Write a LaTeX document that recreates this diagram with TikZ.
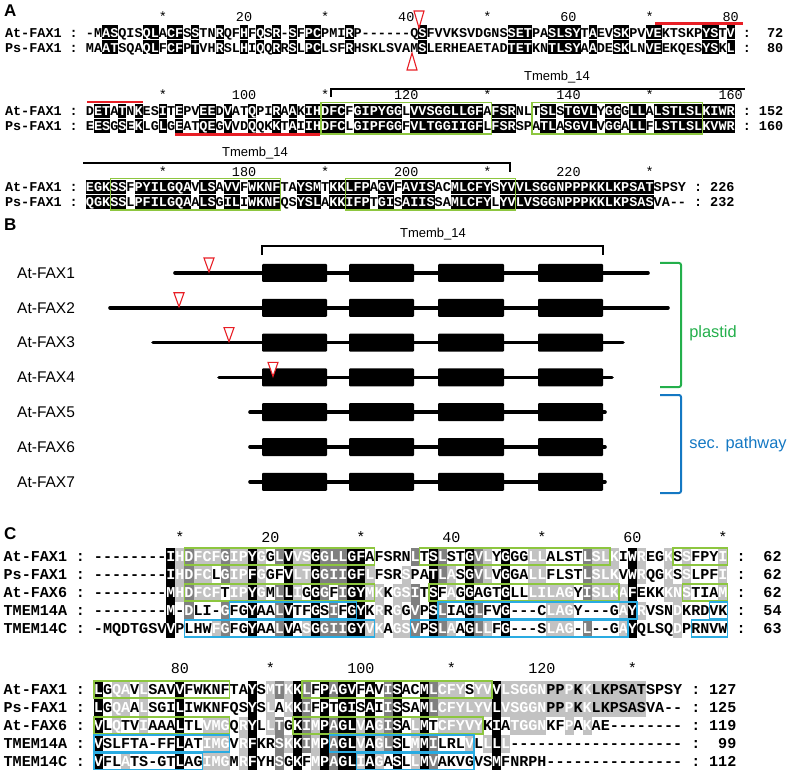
\documentclass[tikz,border=0pt]{standalone}
\usepackage{fontspec}
\setmainfont{Liberation Sans}
\setmonofont{Liberation Mono}
\usepackage{xstring}
\usetikzlibrary{positioning,calc}

\definecolor{boxgreen}{RGB}{141,198,63}
\definecolor{boxblue}{RGB}{41,171,226}
\definecolor{shadedark}{gray}{0.5}
\definecolor{shadelight}{gray}{0.76}
\definecolor{markred}{RGB}{232,30,37}
\definecolor{plastidgreen}{RGB}{35,175,75}
\definecolor{secblue}{RGB}{20,120,195}

% similarity groups (DN EQ ST KR FYW LIVM)
\def\setgroup#1#2{\expandafter\def\csname grp#1\endcsname{#2}}
\expandafter\def\csname grp\endcsname{0}
\setgroup{-}{0}
\setgroup{D}{1}\setgroup{N}{1}
\setgroup{E}{2}\setgroup{Q}{2}
\setgroup{S}{3}\setgroup{T}{3}
\setgroup{K}{4}\setgroup{R}{4}
\setgroup{F}{5}\setgroup{Y}{5}\setgroup{W}{5}
\setgroup{L}{6}\setgroup{I}{6}\setgroup{V}{6}\setgroup{M}{6}
\setgroup{A}{7}\setgroup{G}{8}\setgroup{P}{9}\setgroup{C}{10}\setgroup{H}{11}

\def\setseq#1#2{\expandafter\def\csname seq#1\endcsname{#2}}
\def\nonecol{none}
\newcount\nsame

% one block of the alignment, shaded by conservation
\newcommand\alnblock[2]{% #1 rows, #2 columns
  \foreach \ci in {1,...,#2}{%
    \foreach \ri in {1,...,#1}{%
      \StrChar{\csname seq\ri\endcsname}{\ci}[\tmpch]%
      \expandafter\xdef\csname ch\ri\endcsname{\tmpch}%
    }%
    \foreach \ri in {1,...,#1}{%
      \global\nsame=0
      \edef\grr{\csname grp\csname ch\ri\endcsname\endcsname}%
      \foreach \si in {1,...,#1}{%
        \edef\gss{\csname grp\csname ch\si\endcsname\endcsname}%
        \ifnum\grr>0 \ifnum\grr=\gss\relax\global\advance\nsame by 1 \fi\fi
      }%
      \def\shdcol{none}%
      \ifnum\nsame=#1 \def\shdcol{black}\fi
      \ifnum#1>2
        \ifnum\nsame=\numexpr#1-1\relax\def\shdcol{shadedark}\fi
        \ifnum\nsame=\numexpr#1-2\relax\def\shdcol{shadelight}\fi
      \fi
      \pgfmathsetmacro\cx{\xo+(\ci-1)*\cw}%
      \pgfmathsetmacro\cy{\yo+(\ri-1)*\dy}%
      \def\txtcol{black}%
      \ifx\shdcol\nonecol\else
        \fill[\shdcol] (\cx-\cw/2,\cy-\shh) rectangle (\cx+\cw/2,\cy+\shh);
        \def\txtcol{white}%
      \fi
      \node[anchor=base,inner sep=0pt,text=\txtcol,font=\seqfont] (res\ri-\ci) at (\cx,\cy+\blo) {\csname ch\ri\endcsname};
    }%
  }%
}

% name, colons and residue count of one row
\newcommand\rowtag[4]{% #1 row, #2 name, #3 last column, #4 count
  \node[anchor=base west,inner sep=0pt,font=\seqfont] (name#1) at ({\xo-10.5*\cw},{\yo+(#1-1)*\dy+\blo}) {#2};
  \node[anchor=base,inner sep=0pt,font=\seqfont] (cola#1) at ({\xo-2*\cw},{\yo+(#1-1)*\dy+\blo}) {:};
  \node[anchor=base,inner sep=0pt,font=\seqfont] (colb#1) at ({\xo+(#3+1)*\cw},{\yo+(#1-1)*\dy+\blo}) {:};
  \node[anchor=base east,inner sep=0pt,font=\seqfont] (count#1) at ({\xo+(#3+5.5)*\cw},{\yo+(#1-1)*\dy+\blo}) {#4};
}

\newcommand\colnums[2]{% #1 y, #2 column/label list
  \foreach \k/\lab in {#2}
    \node[anchor=base,inner sep=0pt,font=\numfont] (num\k) at ({\xo+(\k-1)*\cw},#1+\blo) {\lab};
}

\newcommand\seqbox[5]{% colour, first row, last row, first col, last col
  \draw[seqline,#1] ({\xo+(#4-1.5)*\cw},{\yo+(#2-1)*\dy-\shh-\bpad}) rectangle ({\xo+(#5-0.5)*\cw},{\yo+(#3-1)*\dy+\shh+\bpad});
}

\def\panelfont{\fontsize{17}{17}\selectfont\bfseries}
\def\lblfont{\fontsize{13}{13}\selectfont}

\begin{document}
\begin{tikzpicture}[x=1pt,y=-1pt,
  seqline/.style={line width=1.4pt},
  redmark/.style={draw=markred,fill=white,line width=1.1pt},
  redbar/.style={markred,line width=2.6pt},
  tmembline/.style={line width=1.1pt},
  exon/.style={fill=black,rounded corners=1pt},
  protline/.style={line width=3.6pt,line cap=round},
  rowlabel/.style={anchor=west,inner sep=0pt,font=\fontsize{15.5}{15.5}\selectfont},
  brack/.style={line width=2pt,rounded corners=2pt},
  sidelabel/.style={font=\fontsize{16.4}{16.4}\selectfont}
]
\useasboundingbox (0,0) rectangle (788,770);

% ---------------- A ----------------
\node[anchor=base west,inner sep=0pt,font=\panelfont] (panelA) at (4,17) {A};

\def\xo{90}\def\cw{8.11}\def\dy{15}\def\shh{7}\def\blo{4.6}\def\bpad{1.2}
\def\seqfont{\fontsize{13.5}{13.5}\selectfont\ttfamily\bfseries}
\def\numfont{\fontsize{13.5}{13.5}\selectfont\ttfamily}

% block 1
\def\yo{32.5}
\setseq{1}{-MASQISQLACFSSTNRQFHFQSR-SFPCPMIRP------QSFVVKSVDGNSSETPASLSYTAEVSKPVVEKTSKPYSTV}
\setseq{2}{MAATSQAQLFCFPTVHRSLHIQQRRSLPCLSFRHSKLSVAMSLERHEAETADTETKNTLSYAADESKLNVEEKQESYSKL}
\alnblock{2}{80}
\rowtag{1}{At-FAX1}{80}{72}
\rowtag{2}{Ps-FAX1}{80}{80}
\colnums{17}{10/*,20/20,30/*,40/40,50/*,60/60,70/*,80/80}
\draw[redbar] (655,23.5) -- (743,23.5);
\draw[redmark] (414,11) -- (424,11) -- (419,28) -- cycle;
\draw[redmark] (407,70) -- (417,70) -- (412,53) -- cycle;

% block 2
\def\yo{111}
\setseq{1}{DETATNKESITEPVEEDVATQPIRAAKIHDFCFGIPYGGLVVSGGLLGFAFSRNLTSLSTGVLYGGGLLALSTLSLKIWR}
\setseq{2}{EESGSEKLGLGEATQEGVVDQQKKTAIIHDFCLGIPFGGFVLTGGIIGFLFSRSPATLASGVLVGGALLFLSTLSLKVWR}
\alnblock{2}{80}
\rowtag{1}{At-FAX1}{80}{152}
\rowtag{2}{Ps-FAX1}{80}{160}
\colnums{95}{10/*,20/100,30/*,40/120,50/*,60/140,70/*,80/160}
\seqbox{boxgreen}{1}{2}{30}{50}
\seqbox{boxgreen}{1}{2}{56}{76}
\draw[redbar] (87,102) -- (143,102);
\draw[redbar] (175,134.8) -- (320,134.8);
\draw[tmembline] (331,97) -- (331,89) -- (745,89);
\node[font=\lblfont] (tmembA) at (557,77) {Tmemb\_14};

% block 3
\def\yo{187}
\setseq{1}{EGKSSFPYILGQAVLSAVVFWKNFTAYSMTKKLFPAGVFAVISACMLCFYSYVVLSGGNPPPKKLKPSATSPSY}
\setseq{2}{QGKSSLPFILGQAALSGILIWKNFQSYSLAKKIFPTGISAIISSAMLCFYLYVLVSGGNPPPKKLKPSASVA--}
\alnblock{2}{74}
\rowtag{1}{At-FAX1}{74}{226}
\rowtag{2}{Ps-FAX1}{74}{232}
\colnums{172}{10/*,20/180,30/*,40/200,50/*,60/220,70/*}
\seqbox{boxgreen}{1}{2}{4}{24}
\seqbox{boxgreen}{1}{2}{33}{53}
\draw[tmembline] (83,163) -- (510,163) -- (510,172);
\node[font=\lblfont] (tmembB) at (255,153) {Tmemb\_14};

% ---------------- B ----------------
\node[anchor=base west,inner sep=0pt,font=\panelfont] (panelB) at (4,231) {B};
\node[font=\lblfont] (tmembC) at (433,234) {Tmemb\_14};
\draw[tmembline] (262,255) -- (262,246) -- (603,246) -- (603,255);
\foreach \i/\yy/\xs/\xe in {1/273/175/648,2/307.8/110/668,3/342.6/153/623,4/377.4/219/612,5/412.2/250/605,6/447/250/605,7/481.8/250/605}{
  \node[rowlabel] (fax\i) at (17,\yy) {At-FAX\i};
  \draw[protline] (\xs,\yy) -- (\xe,\yy);
  \foreach \bx/\bw in {262/327,349/414,438/504,538/603}
    \fill[exon] (\bx,\yy-9) rectangle (\bw,\yy+9);
}
\foreach \tx/\ty in {209/273,179/307.8,229/342.6,273/377.4}
  \draw[redmark] (\tx-5,\ty-15) -- (\tx+5,\ty-15) -- (\tx,\ty-1) -- cycle;
\draw[brack,plastidgreen] (660,263) -- (681,263) -- (681,387) -- (660,387);
\node[sidelabel,text=plastidgreen] (plastid) at (713,333) {plastid};
\draw[brack,secblue] (660,395) -- (681,395) -- (681,493) -- (660,493);
\node[sidelabel,text=secblue] (secpath) at (738,444) {sec. pathway};

% ---------------- C ----------------
\node[anchor=base west,inner sep=0pt,font=\panelfont] (panelC) at (4,539) {C};

\def\xo{98.5}\def\cw{9.05}\def\dy{18}\def\shh{9}\def\blo{5.2}\def\bpad{-0.6}
\def\seqfont{\fontsize{15.1}{15.1}\selectfont\ttfamily\bfseries}
\def\numfont{\fontsize{15.1}{15.1}\selectfont\ttfamily}

% block 1
\def\yo{556.5}
\setseq{1}{--------IHDFCFGIPYGGLVVSGGLLGFAFSRNLTSLSTGVLYGGGLLALSTLSLKIWREGKSSFPYI}
\setseq{2}{--------IHDFCLGIPFGGFVLTGGIIGFLFSRSPATLASGVLVGGALLFLSTLSLKVWRQGKSSLPFI}
\setseq{3}{--------MHDFCFTIPYGMLLIGGGFIGYMKKGSITSFAGGAGTGLLLILAGYISLKAFEKKKNSTIAM}
\setseq{4}{--------M-DLI-GFGYAALVTFGSIFGYKRRGGVPSLIAGLFVG---CLAGY---GAYRVSNDKRDVK}
\setseq{5}{-MQDTGSVVPLHWFGFGYAALVASGGIIGYVKAGSVPSLAAGLLFG---SLAG-L--GAYQLSQDPRNVW}
\alnblock{5}{70}
\rowtag{1}{At-FAX1}{70}{62}
\rowtag{2}{Ps-FAX1}{70}{62}
\rowtag{3}{At-FAX6}{70}{62}
\rowtag{4}{TMEM14A}{70}{54}
\rowtag{5}{TMEM14C}{70}{63}
\colnums{537}{10/*,20/20,30/*,40/40,50/*,60/60,70/*}
\seqbox{boxgreen}{1}{1}{11}{31}
\seqbox{boxgreen}{1}{1}{37}{57}
\seqbox{boxgreen}{1}{1}{65}{70}
\seqbox{boxgreen}{3}{3}{11}{31}
\seqbox{boxgreen}{3}{3}{38}{58}
\seqbox{boxgreen}{3}{3}{66}{70}
\seqbox{boxblue}{4}{4}{16}{29}
\seqbox{boxblue}{4}{4}{39}{60}
\seqbox{boxblue}{4}{4}{69}{70}
\seqbox{boxblue}{5}{5}{11}{31}
\seqbox{boxblue}{5}{5}{36}{59}
\seqbox{boxblue}{5}{5}{67}{70}

% block 2
\def\yo{689.5}
\setseq{1}{LGQAVLSAVVFWKNFTAYSMTKKLFPAGVFAVISACMLCFYSYVVLSGGNPPPKKLKPSATSPSY}
\setseq{2}{LGQAALSGILIWKNFQSYSLAKKIFPTGISAIISSAMLCFYLYVLVSGGNPPPKKLKPSASVA--}
\setseq{3}{VLQTVIAAALTLVMGQRYLLTGKIMPAGLVAGISALMTCFYVYKIATGGNKFPAKAE--------}
\setseq{4}{VSLFTA-FFLATIMGVRFKRSKKIMPAGLVAGLSLMMILRLVLLLL-------------------}
\setseq{5}{VFLATS-GTLAGIMGMRFYHSGKFMPAGLIAGASLLMVAKVGVSMFNRPH---------------}
\fill[shadelight] ({\xo+49.5*\cw},{\yo-\shh}) rectangle ({\xo+60.5*\cw},{\yo+\dy+\shh});
\alnblock{5}{65}
\rowtag{1}{At-FAX1}{65}{127}
\rowtag{2}{Ps-FAX1}{65}{125}
\rowtag{3}{At-FAX6}{65}{119}
\rowtag{4}{TMEM14A}{65}{99}
\rowtag{5}{TMEM14C}{65}{112}
\colnums{668}{10/80,20/*,30/100,40/*,50/120,60/*}
\seqbox{boxgreen}{1}{1}{1}{15}
\seqbox{boxgreen}{1}{1}{24}{44}
\seqbox{boxgreen}{3}{3}{1}{15}
\seqbox{boxgreen}{3}{3}{23}{43}
\seqbox{boxblue}{4}{4}{1}{15}
\seqbox{boxblue}{4}{4}{27}{42}
\seqbox{boxblue}{5}{5}{1}{12}
\seqbox{boxblue}{5}{5}{30}{42}
\end{tikzpicture}
\end{document}
